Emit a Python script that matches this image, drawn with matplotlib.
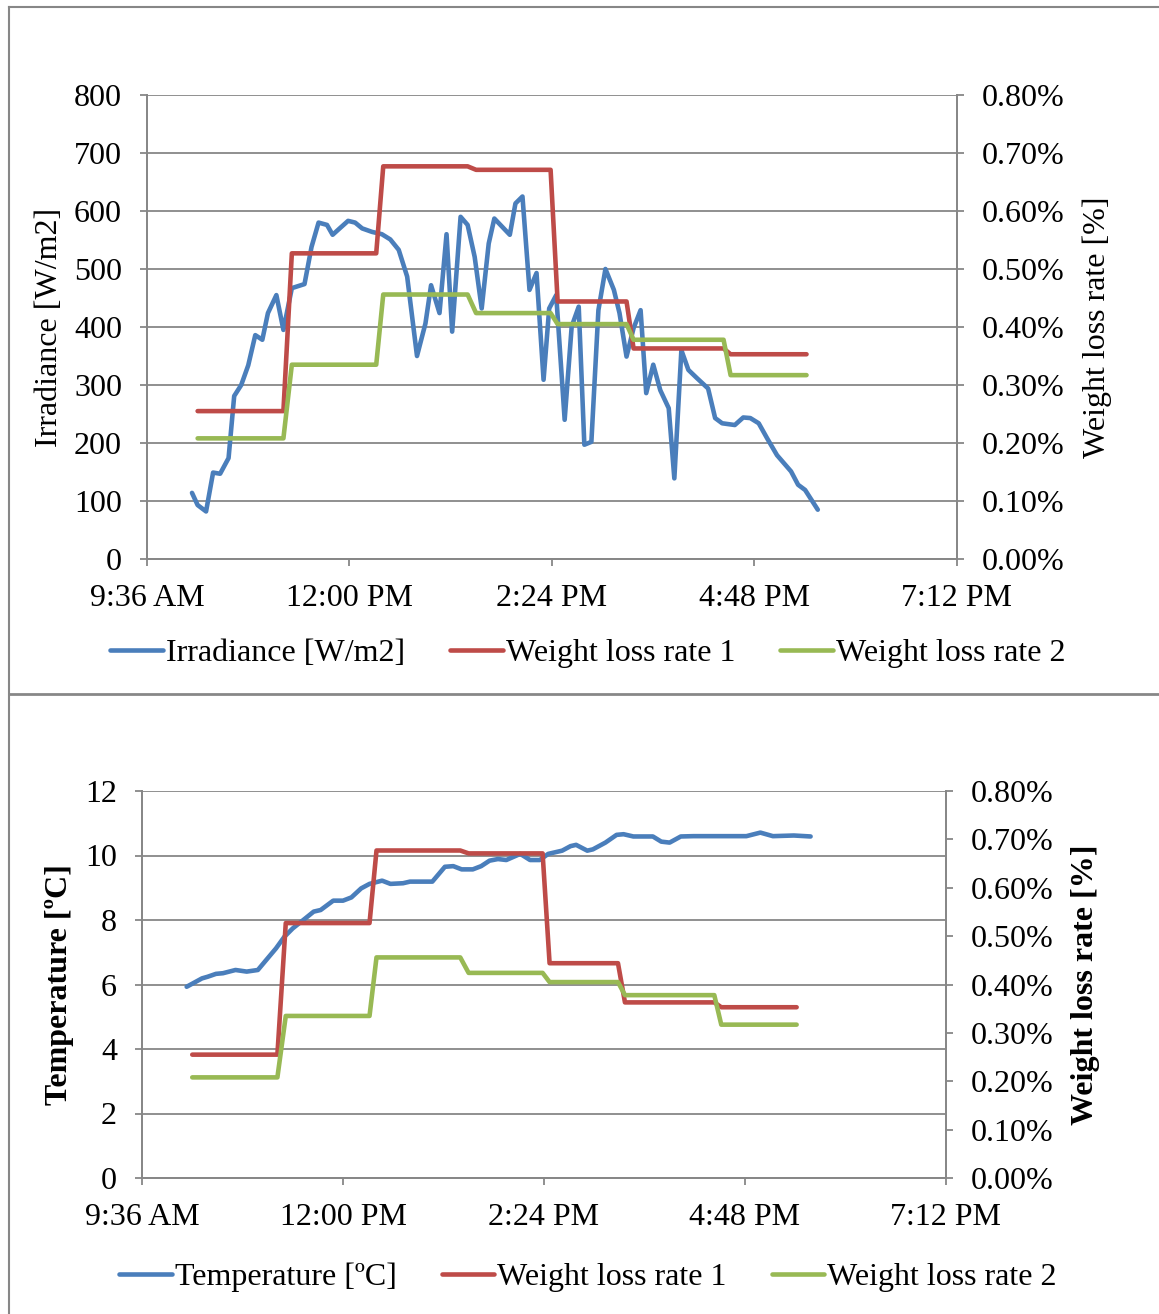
import matplotlib
matplotlib.use('Agg')
import matplotlib.pyplot as plt
from matplotlib.lines import Line2D
from matplotlib.ticker import FuncFormatter, MultipleLocator

plt.rcParams['font.family'] = ['Liberation Serif', 'DejaVu Serif']

# ---------------- data ----------------

irr_times = ['10:08', '10:12', '10:18', '10:23', '10:28', '10:34', '10:38', '10:43', '10:48', '10:53',
             '10:58', '11:02', '11:08', '11:13', '11:19', '11:28', '11:33', '11:38', '11:44', '11:48',
             '11:53', '11:59', '12:04', '12:09', '12:16', '12:23', '12:29', '12:35', '12:41', '12:48',
             '12:54', '12:58', '13:04', '13:09', '13:13', '13:19', '13:24', '13:29', '13:34', '13:39',
             '13:43', '13:54', '13:58', '14:03', '14:08', '14:13', '14:18', '14:22', '14:27', '14:33',
             '14:38', '14:43', '14:47', '14:52', '14:57', '15:02', '15:08', '15:12', '15:17', '15:22',
             '15:27', '15:31', '15:36', '15:41', '15:47', '15:51', '15:56', '16:01', '16:07', '16:15',
             '16:20', '16:25', '16:34', '16:40', '16:45', '16:51', '16:57', '17:04', '17:14', '17:19',
             '17:24', '17:33']
irradiance = [114, 93, 82, 149, 147, 174, 281, 300, 334, 386,
              378, 424, 455, 395, 467, 474, 538, 580, 576, 559,
              570, 583, 580, 570, 564, 560, 551, 533, 487, 350,
              406, 472, 424, 560, 392, 590, 576, 521, 432, 544,
              587, 559, 613, 625, 464, 493, 309, 432, 455, 240,
              401, 435, 197, 202, 429, 500, 464, 424, 349, 398,
              429, 286, 335, 291, 260, 139, 360, 326, 312, 294,
              243, 234, 231, 244, 243, 234, 208, 179, 151, 128,
              119, 85]

temp_times = ['10:08', '10:19', '10:23', '10:29', '10:34', '10:43', '10:51', '10:59', '11:05', '11:12',
              '11:18', '11:24', '11:33', '11:39', '11:44', '11:53', '12:00', '12:06', '12:13', '12:19',
              '12:28', '12:34', '12:43', '12:48', '13:04', '13:13', '13:19', '13:25', '13:33', '13:39',
              '13:45', '13:51', '13:57', '14:07', '14:14', '14:21', '14:27', '14:37', '14:43', '14:47',
              '14:55', '14:59', '15:08', '15:16', '15:21', '15:28', '15:42', '15:48', '15:54', '16:02',
              '16:11', '16:49', '16:59', '17:08', '17:23', '17:35']
temperature = [5.93, 6.19, 6.24, 6.33, 6.35, 6.45, 6.40, 6.45, 6.76, 7.12,
               7.48, 7.74, 8.05, 8.26, 8.31, 8.60, 8.60, 8.70, 8.98, 9.12,
               9.22, 9.12, 9.14, 9.19, 9.19, 9.65, 9.67, 9.57, 9.57, 9.67,
               9.84, 9.89, 9.86, 10.05, 9.86, 9.86, 10.05, 10.15, 10.29, 10.33,
               10.15, 10.19, 10.40, 10.64, 10.66, 10.59, 10.59, 10.43, 10.40, 10.59,
               10.60, 10.60, 10.71, 10.60, 10.62, 10.59]

wl_times = ['10:12', '11:13', '11:19', '12:19', '12:24', '13:24', '13:30',
            '14:23', '14:28', '15:17', '15:22', '16:26', '16:31', '17:25']
wl_rate1 = [0.255, 0.255, 0.527, 0.527, 0.677, 0.677, 0.671,
            0.671, 0.444, 0.444, 0.363, 0.363, 0.353, 0.353]
wl_rate2 = [0.208, 0.208, 0.335, 0.335, 0.456, 0.456, 0.424,
            0.424, 0.405, 0.405, 0.378, 0.378, 0.317, 0.317]

x_ticks = [9.6, 12.0, 14.4, 16.8, 19.2]

BLUE = '#4A7EBB'
RED = '#BE4B48'
GREEN = '#98B954'
GRAY = '#878787'
FS = 23
LW = 3.3
W, H = 1159, 1314


def to_hours(ts):
    return [int(t.split(':')[0]) + int(t.split(':')[1]) / 60 for t in ts]


def time_label(h, pos=None):
    total = int(round(h * 60))
    hh, mm = divmod(total, 60)
    suffix = 'AM' if hh < 12 else 'PM'
    hh12 = hh % 12
    if hh12 == 0:
        hh12 = 12
    return f'{hh12}:{mm:02d} {suffix}'


def style_axes(ax, ax2):
    ax.set_xlim(9.6, 19.2)
    ax.set_xticks(x_ticks)
    ax.xaxis.set_major_formatter(FuncFormatter(time_label))
    ax.grid(axis='y', color=GRAY, linewidth=1.3)
    ax.set_axisbelow(True)
    for a in (ax, ax2):
        for s in a.spines.values():
            s.set_color(GRAY)
            s.set_linewidth(1.3)
        a.spines['top'].set_visible(False)
    ax.tick_params(axis='both', direction='out', length=5, width=1.3, color=GRAY,
                   labelsize=FS, pad=13)
    ax.tick_params(axis='x', pad=13)
    ax2.set_ylim(0, 0.8)
    ax2.yaxis.set_major_locator(MultipleLocator(0.1))
    ax2.yaxis.set_major_formatter(FuncFormatter(lambda v, p: f'{v:.2f}%'))
    ax2.tick_params(axis='y', direction='out', length=5, width=1.3, color=GRAY,
                    labelsize=FS, pad=13)


line_kw = dict(linewidth=LW, solid_capstyle='round', solid_joinstyle='round')
leg_kw = dict(loc='center', ncol=3, frameon=False, fontsize=FS, handlelength=1.65,
              handletextpad=0.1, columnspacing=1.4)

fig = plt.figure(figsize=(W / 100, H / 100), dpi=100)

# ---------------- top: irradiance ----------------
ax1 = fig.add_axes([147 / W, 1 - 559 / H, 810 / W, 464 / H])
ax1b = ax1.twinx()
ax1.plot(to_hours(irr_times), irradiance, color=BLUE, label='Irradiance [W/m2]', **line_kw)
ax1b.plot(to_hours(wl_times), wl_rate1, color=RED, label='Weight loss rate 1', **line_kw)
ax1b.plot(to_hours(wl_times), wl_rate2, color=GREEN, label='Weight loss rate 2', **line_kw)
ax1.set_ylim(0, 800)
ax1.yaxis.set_major_locator(MultipleLocator(100))
style_axes(ax1, ax1b)
fig.text(50 / W, 1 - 327 / H, 'Irradiance [W/m2]', rotation=90, ha='center', va='center', fontsize=FS)
fig.text(1097 / W, 1 - 327 / H, 'Weight loss rate [%]', rotation=90, ha='center', va='center', fontsize=FS)
h1 = ax1.get_lines() + ax1b.get_lines()
fig.legend(h1, [l.get_label() for l in h1], bbox_to_anchor=(588 / W, 1 - 653 / H), **leg_kw)

# ---------------- bottom: temperature ----------------
ax2 = fig.add_axes([142 / W, 1 - 1178 / H, 804 / W, 387 / H])
ax2b = ax2.twinx()
ax2.plot(to_hours(temp_times), temperature, color=BLUE, label='Temperature [ºC]', **line_kw)
ax2b.plot(to_hours(wl_times), wl_rate1, color=RED, label='Weight loss rate 1', **line_kw)
ax2b.plot(to_hours(wl_times), wl_rate2, color=GREEN, label='Weight loss rate 2', **line_kw)
ax2.set_ylim(0, 12)
ax2.yaxis.set_major_locator(MultipleLocator(2))
style_axes(ax2, ax2b)
fig.text(60 / W, 1 - 985 / H, 'Temperature [ºC]', rotation=90, ha='center', va='center',
         fontsize=FS, fontweight='bold')
fig.text(1085 / W, 1 - 985 / H, 'Weight loss rate [%]', rotation=90, ha='center', va='center',
         fontsize=FS, fontweight='bold')
h2 = ax2.get_lines() + ax2b.get_lines()
fig.legend(h2, [l.get_label() for l in h2], bbox_to_anchor=(588 / W, 1 - 1277 / H), **leg_kw)

# ---------------- panel borders ----------------
bx = 9 / W
fig.add_artist(Line2D([bx, bx], [0, 1 - 7 / H], transform=fig.transFigure, color=GRAY, linewidth=1.5))
fig.add_artist(Line2D([bx, 1], [1 - 7 / H, 1 - 7 / H], transform=fig.transFigure, color=GRAY, linewidth=1.5))
fig.add_artist(Line2D([bx, 1], [1 - 694 / H, 1 - 694 / H], transform=fig.transFigure, color=GRAY, linewidth=2))

fig.savefig('out.png', dpi=100)
